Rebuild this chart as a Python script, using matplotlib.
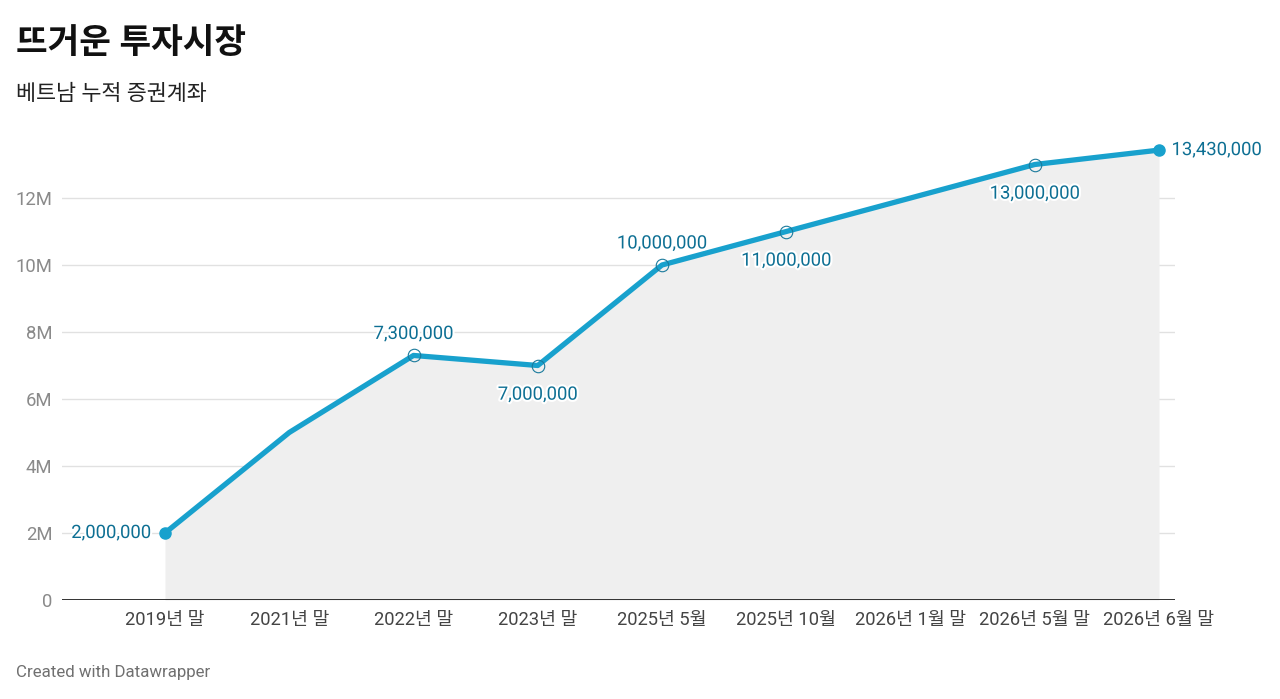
import matplotlib
matplotlib.use("Agg")
import matplotlib.pyplot as plt
import matplotlib.patheffects as pe
import numpy as np

categories = ["2019년 말", "2021년 말", "2022년 말", "2023년 말", "2025년 5월",
              "2025년 10월", "2026년 1월 말", "2026년 5월 말", "2026년 6월 말"]
values = [2000000, 5000000, 7300000, 7000000, 10000000,
          11000000, 12000000, 13000000, 13430000]
# label placement per point: None = no label
label_pos = ["left", None, "above", "below", "above", "below", None, "below", "right"]
yticks = [0, 2000000, 4000000, 6000000, 8000000, 10000000, 12000000]
ytick_labels = ["0", "2M", "4M", "6M", "8M", "10M", "12M"]

FAM = ["Roboto", "Noto Sans CJK KR", "DejaVu Sans"]
plt.rcParams['font.family'] = FAM

W, H = 1280, 699
fig = plt.figure(figsize=(W / 100, H / 100), dpi=100)

# axes in pixel coords
ax_left, ax_right, ax_bottom, ax_top = 62, 1175, 600, 140
ax = fig.add_axes([ax_left / W, 1 - ax_bottom / H, (ax_right - ax_left) / W, (ax_bottom - ax_top) / H])

x = np.arange(len(categories))
spacing = 124.25
x0_px = 165
xmin = (ax_left - x0_px) / spacing
xmax = (ax_right - x0_px) / spacing
ax.set_xlim(xmin, xmax)
per_px = 1e6 / 33.5
ax.set_ylim(0, (ax_bottom - ax_top) * per_px)

line_color = "#18a1cd"
label_color = "#0d6f93"
VFS = 13.3

ax.fill_between(x, 0, values, color="#efefef", zorder=1, linewidth=0)
for yt in yticks[1:]:
    ax.axhline(yt, color="#e1e1e1", linewidth=1, zorder=0.5)
ax.axhline(0, color="#222222", linewidth=1.3, zorder=3)

ax.plot(x, values, color=line_color, linewidth=3.8, zorder=4, solid_capstyle="round",
        solid_joinstyle="round")

halo = [pe.withStroke(linewidth=3, foreground="white")]
for i, (v, pos) in enumerate(zip(values, label_pos)):
    if pos is None:
        continue
    if pos in ("left", "right"):
        ax.plot(x[i], v, "o", color=line_color, markersize=8, zorder=5, clip_on=False)
    else:
        ax.plot(x[i], v, "o", markerfacecolor="none", markeredgecolor="#1a7a9c",
                markeredgewidth=0.8, markersize=9, zorder=5)
    txt = f"{v:,}"
    if pos == "left":
        ax.annotate(txt, (x[i], v), xytext=(-10, 0), textcoords="offset points",
                    ha="right", va="center", color=label_color, fontsize=VFS,
                    path_effects=halo, zorder=6)
    elif pos == "right":
        ax.annotate(txt, (x[i], v), xytext=(9, 0), textcoords="offset points",
                    ha="left", va="center", color=label_color, fontsize=VFS,
                    path_effects=halo, zorder=6, annotation_clip=False)
    elif pos == "above":
        ax.annotate(txt, (x[i], v), xytext=(0, 15.5), textcoords="offset points",
                    ha="center", va="center", color=label_color, fontsize=VFS,
                    path_effects=halo, zorder=6)
    else:
        ax.annotate(txt, (x[i], v), xytext=(0, -21), textcoords="offset points",
                    ha="center", va="center", color=label_color, fontsize=VFS,
                    path_effects=halo, zorder=6)

ax.set_yticks(yticks)
ax.set_yticklabels(ytick_labels, color="#8a8a8a", fontsize=13.3)
ax.set_xticks(x)
ax.set_xticklabels(categories, color="#444444", fontsize=13.2)
ax.tick_params(axis="both", length=0)
ax.tick_params(axis="y", pad=7)
ax.tick_params(axis="x", pad=8)
for s in ax.spines.values():
    s.set_visible(False)
ax.set_facecolor("none")

fig.text(16 / W, 1 - 44 / H, "뜨거운 투자시장", fontsize=24.8, fontweight="bold",
         color="#111111", va="center", ha="left", family=FAM)
fig.text(16 / W, 1 - 94 / H, "베트남 누적 증권계좌", fontsize=15.7,
         color="#222222", va="center", ha="left", family=FAM)
fig.text(16 / W, 1 - 673 / H, "Created with Datawrapper", fontsize=12.2,
         color="#707070", va="center", ha="left", family=FAM)

fig.savefig("out.png", dpi=100, facecolor="white")
